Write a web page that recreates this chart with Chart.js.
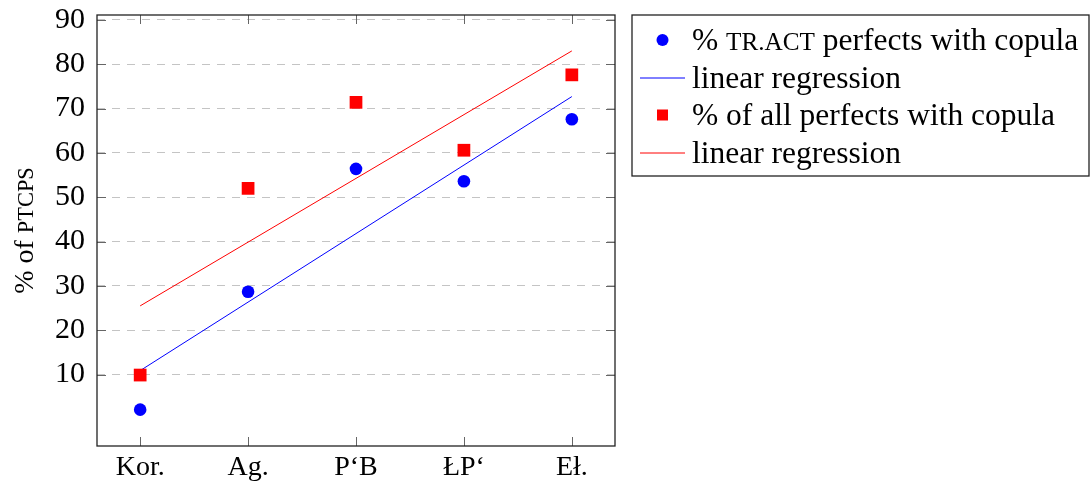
<!DOCTYPE html>
<html>
<head>
<meta charset="utf-8">
<script src="https://cdn.jsdelivr.net/npm/chart.js@4.4.1/dist/chart.umd.min.js"></script>
<style>
  html, body { margin: 0; padding: 0; background: #fff; }
  #wrap { width: 1090px; height: 486px; position: relative; }
</style>
</head>
<body>
<div id="wrap"><canvas id="myChart"></canvas></div>
<script>
'use strict'

// sources on the x axis
var categories = ['Kor.', 'Ag.', 'P‘B', 'ŁP‘', 'Eł.'];
var categoryPos = [0, 1, 2, 3, 4];

// % tr.act perfects with copula
var tractValues = [2.1, 28.7, 56.4, 53.6, 67.6];
var tractRegression = [10.9, 72.7];

// % of all perfects with copula
var allValues = [9.9, 52.0, 71.4, 60.6, 77.6];
var allRegression = [25.5, 83.0];

var yTicks = [10, 20, 30, 40, 50, 60, 70, 80, 90];

// text inside {} is set in small caps
var seriesLabels = ['% {tr.act} perfects with copula', 'linear regression',
                    '% of all perfects with copula', 'linear regression'];
var yTitle = '% of {ptcps}';

var FONT = '"Liberation Serif", "DejaVu Serif", serif';

function toPoints(vals) {
    return vals.map(function (v, i) { return { x: categoryPos[i], y: v }; });
}
function endPoints(pair) {
    return [{ x: categoryPos[0], y: pair[0] }, { x: categoryPos[categoryPos.length - 1], y: pair[1] }];
}

/* draws a string where {..} parts are small caps (uppercase, smaller size) */
function drawMixed(ctx, text, x, y, size, align) {
    var parts = text.split(/[{}]/).map(function (p, i) {
        return i % 2 ? { s: p.toUpperCase(), f: (size * 0.8) + 'px ' + FONT }
                     : { s: p, f: size + 'px ' + FONT };
    });
    var total = 0;
    parts.forEach(function (p) { ctx.font = p.f; p.w = ctx.measureText(p.s).width; total += p.w; });
    var cx = align === 'center' ? x - total / 2 : x;
    ctx.textAlign = 'left';
    ctx.textBaseline = 'alphabetic';
    parts.forEach(function (p) {
        ctx.font = p.f;
        ctx.fillText(p.s, cx, y);
        cx += p.w;
    });
}

var framePlugin = {
    id: 'frame',
    afterDraw: function (chart) {
        var ctx = chart.ctx, a = chart.chartArea;
        var xs = chart.scales.x, ys = chart.scales.y;
        ctx.save();

        // inward tick marks on all four sides
        ctx.strokeStyle = '#666';
        ctx.lineWidth = 1;
        ctx.beginPath();
        categoryPos.forEach(function (v) {
            var px = Math.round(xs.getPixelForValue(v)) + 0.5;
            ctx.moveTo(px, a.bottom); ctx.lineTo(px, a.bottom - 9);
            ctx.moveTo(px, a.top); ctx.lineTo(px, a.top + 9);
        });
        yTicks.forEach(function (v) {
            var py = Math.round(ys.getPixelForValue(v)) + 0.5;
            ctx.moveTo(a.left, py); ctx.lineTo(a.left + 9, py);
            ctx.moveTo(a.right, py); ctx.lineTo(a.right - 9, py);
        });
        ctx.stroke();

        ctx.strokeStyle = '#222';
        ctx.lineWidth = 1.3;
        ctx.strokeRect(a.left, a.top, a.right - a.left, a.bottom - a.top);

        // y axis title
        ctx.fillStyle = '#000';
        ctx.save();
        ctx.translate(33, (a.top + a.bottom) / 2);
        ctx.rotate(-Math.PI / 2);
        drawMixed(ctx, yTitle, 0, 0, 28, 'center');
        ctx.restore();

        // legend box
        var lx = 632, ly = 15, lw = 457, lh = 161;
        ctx.strokeStyle = '#222';
        ctx.lineWidth = 1.3;
        ctx.strokeRect(lx, ly, lw, lh);
        var rowY = [40, 77.5, 115, 152.5];
        chart.data.datasets.forEach(function (ds, i) {
            var y = rowY[i];
            ctx.fillStyle = ds.backgroundColor;
            ctx.strokeStyle = ds.borderColor;
            if (ds.showLine) {
                ctx.lineWidth = 1;
                ctx.beginPath();
                ctx.moveTo(640, y + 0.5); ctx.lineTo(685, y + 0.5);
                ctx.stroke();
            } else if (ds.pointStyle === 'rect') {
                ctx.fillRect(657, y - 5.5, 11, 11);
            } else {
                ctx.beginPath();
                ctx.arc(662.5, y, 6, 0, Math.PI * 2);
                ctx.fill();
            }
            ctx.fillStyle = '#000';
            drawMixed(ctx, ds.label, 692, y + 10, 31.5, 'left');
        });
        ctx.restore();
    }
};

var ctx = document.getElementById('myChart').getContext('2d');

var graphData = {
    type: 'scatter',
    data: {
        datasets: [{
            label: seriesLabels[0],
            data: toPoints(tractValues),
            pointStyle: 'circle',
            pointRadius: 6.3,
            backgroundColor: '#0000ff',
            borderColor: '#0000ff',
            borderWidth: 0,
            order: 4
        }, {
            label: seriesLabels[1],
            data: endPoints(tractRegression),
            showLine: true,
            pointRadius: 0,
            borderWidth: 1,
            borderColor: '#0000ff',
            backgroundColor: '#0000ff',
            order: 3
        }, {
            label: seriesLabels[2],
            data: toPoints(allValues),
            pointStyle: 'rect',
            pointRadius: 9,
            backgroundColor: '#ff0000',
            borderColor: '#ff0000',
            borderWidth: 0,
            order: 2
        }, {
            label: seriesLabels[3],
            data: endPoints(allRegression),
            showLine: true,
            pointRadius: 0,
            borderWidth: 1,
            borderColor: '#ff0000',
            backgroundColor: '#ff0000',
            order: 1
        }]
    },
    options: {
        responsive: true,
        maintainAspectRatio: false,
        animation: false,
        layout: { padding: { left: 0, right: 475, top: 15, bottom: 0 } },
        plugins: { legend: { display: false }, tooltip: { enabled: false } },
        scales: {
            x: {
                type: 'linear',
                min: -0.4,
                max: 4.4,
                afterBuildTicks: function (s) {
                    s.ticks = categoryPos.map(function (v) { return { value: v }; });
                },
                afterFit: function (s) {
                    s.height = 40;
                    s.paddingLeft = 0; s.paddingRight = 0;
                },
                grid: { display: false, drawTicks: false },
                border: { display: false },
                ticks: {
                    padding: 5,
                    color: '#000',
                    font: { family: FONT, size: 28 },
                    maxRotation: 0,
                    callback: function (v, i) { return categories[i]; }
                }
            },
            y: {
                min: -6.1,
                max: 91.1,
                afterBuildTicks: function (s) {
                    s.ticks = yTicks.map(function (v) { return { value: v }; });
                },
                afterFit: function (s) {
                    s.width = 97;
                    s.paddingTop = 0; s.paddingBottom = 0;
                },
                grid: { color: '#c4c4c4', lineWidth: 1, drawTicks: false },
                border: { display: false, dash: [8, 7] },
                ticks: {
                    padding: 12,
                    color: '#000',
                    font: { family: FONT, size: 30 }
                }
            }
        }
    },
    plugins: [framePlugin]
};

var myChart = new Chart(ctx, graphData);
</script>
</body>
</html>
